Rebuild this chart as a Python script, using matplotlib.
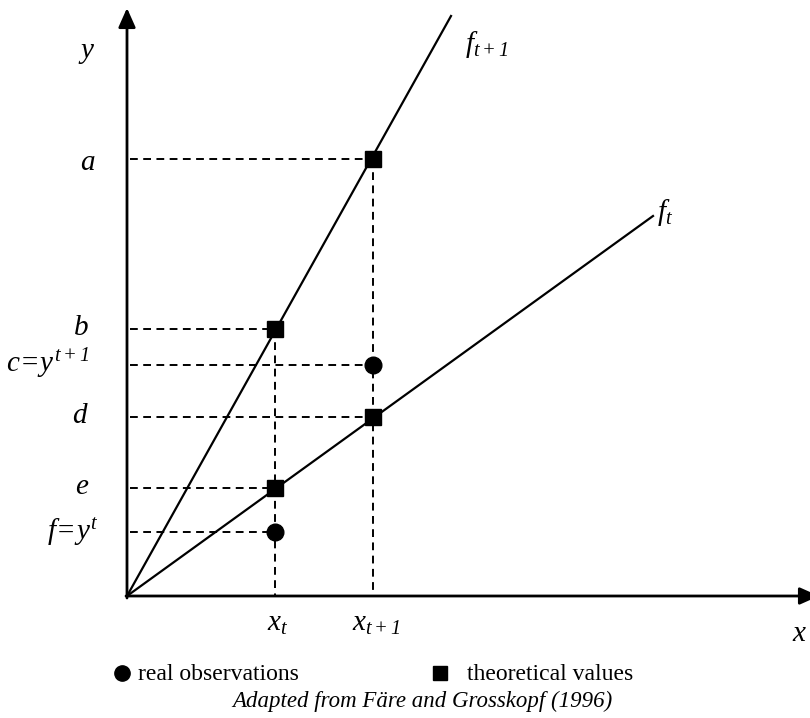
import matplotlib.pyplot as plt

plt.rcParams['font.family'] = ['Liberation Serif', 'DejaVu Serif']
plt.rcParams['mathtext.fontset'] = 'custom'
plt.rcParams['mathtext.rm'] = 'Liberation Serif:italic'
plt.rcParams['mathtext.it'] = 'Liberation Serif:italic'

# positions (pixels, origin at the axes corner)
x_names = [r'$x_t$', r'$x_{t+1}$']
x_vals = [148, 246]

level_names = ['a', 'b', 'c', 'd', 'e', 'f']
level_labels = [r'$a$', r'$b$', r'$c\!=\!y^{t+1}$', r'$d$', r'$e$', r'$f\!=\!y^{t}$']
level_vals = [437, 267, 231, 179, 108, 64]
level_x = [246, 148, 246, 246, 148, 148]

theo_x = [246, 148, 246, 148]
theo_y = [437, 267, 179, 108]
real_x = [246, 148]
real_y = [231, 64]

# frontier end points
ft1_end = (324, 580)
ft_end = (526, 380)


def main():
    fig = plt.figure(figsize=(8.1, 7.18), dpi=100)
    ax = fig.add_axes([0, 0, 1, 1])
    ax.set_xlim(-127, 683)
    ax.set_ylim(-122, 596)
    ax.axis('off')

    # axes with arrows
    arr = dict(arrowstyle='-|>,head_length=0.9,head_width=0.4', color='black',
               lw=2, mutation_scale=13, shrinkA=0, shrinkB=0)
    ax.annotate('', xy=(0, 588), xytext=(0, -2), arrowprops=arr, annotation_clip=False)
    ax.annotate('', xy=(692, 0), xytext=(-1, 0), arrowprops=arr, annotation_clip=False)

    # dashed guides
    dash = dict(color='black', lw=1.4, dashes=(4.0, 2.8))
    for xv, yv in zip(level_x, level_vals):
        ax.plot([3, xv], [yv, yv], **dash)
    for xv in x_vals:
        top = max(v for v, xx in zip(level_vals, level_x) if xx == xv)
        ax.plot([xv, xv], [top, 0], **dash)

    # frontiers
    ax.plot([0, ft1_end[0]], [0, ft1_end[1]], color='black', lw=1.6)
    ax.plot([0, ft_end[0]], [0, ft_end[1]], color='black', lw=1.6)

    ax.plot(theo_x, theo_y, 's', color='black', ms=11.5, zorder=5)
    ax.plot(real_x, real_y, 'o', color='black', ms=12, zorder=5)

    # labels
    fs = 21
    ax.text(-40, 543, r'$y$', fontsize=fs, ha='center', va='center')
    ax.text(-39, 433, level_labels[0], fontsize=fs, ha='center', va='center')
    for lab, yv in zip(level_labels[1:5], level_vals[1:5]):
        ax.text(-38, yv + 1, lab, fontsize=fs, ha='right', va='center')
    ax.text(-29, level_vals[5], level_labels[5], fontsize=fs, ha='right', va='center')

    ax.text(338, 551, r'$f_{t+1}$', fontsize=fs, ha='left', va='center')
    ax.text(530, 384, r'$f_{t}$', fontsize=fs, ha='left', va='center')

    for lab, xv in zip(x_names, x_vals):
        ax.text(xv + 3, -28, lab, fontsize=fs, ha='center', va='center')
    ax.text(673, -38, r'$x$', fontsize=fs, ha='center', va='center')

    # legend
    ax.plot([-5], [-77], 'o', color='black', ms=11, clip_on=False)
    ax.text(11, -79, 'real observations', fontsize=17, ha='left', va='center')
    ax.plot([313], [-77], 's', color='black', ms=10, clip_on=False)
    ax.text(340, -79, 'theoretical values', fontsize=17, ha='left', va='center')
    ax.text(295, -105, 'Adapted from Färe and Grosskopf (1996)', fontsize=16.5,
            style='italic', ha='center', va='center')

    fig.savefig('out.png', dpi=100)


if __name__ == '__main__':
    main()
